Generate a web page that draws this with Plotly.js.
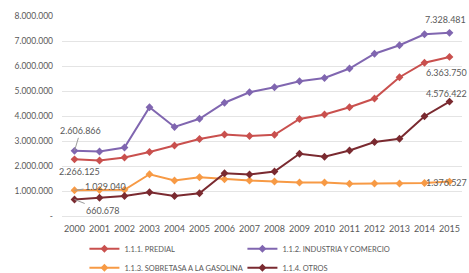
<!DOCTYPE html>
<html>
<head>
<meta charset="utf-8">
<script src="https://cdn.plot.ly/plotly-3.0.1.min.js"></script>
<style>html,body{margin:0;padding:0;background:#fff;}#chart{width:469px;height:273px;}</style>
</head>
<body>
<div id="chart"></div>
<script>
const years = ["2000","2001","2002","2003","2004","2005","2006","2007","2008","2009","2010","2011","2012","2013","2014","2015"];
const predial = [2266125,2220000,2340000,2560000,2820000,3080000,3260000,3200000,3250000,3880000,4060000,4350000,4700000,5550000,6130000,6363750];
const industria = [2606866,2580000,2740000,4350000,3560000,3890000,4530000,4950000,5150000,5390000,5520000,5900000,6490000,6830000,7270000,7328481];
const sobretasa = [1029040,1040000,1050000,1670000,1420000,1550000,1470000,1420000,1380000,1340000,1340000,1290000,1300000,1300000,1320000,1376527];
const otros = [660678,730000,800000,950000,800000,910000,1710000,1660000,1780000,2490000,2370000,2620000,2960000,3090000,3990000,4576422];
const seriesNames = ["1.1.1. PREDIAL","1.1.2. INDUSTRIA Y COMERCIO","1.1.3. SOBRETASA A LA GASOLINA","1.1.4. OTROS"];
const yTickVals = [0,1000000,2000000,3000000,4000000,5000000,6000000,7000000,8000000];
const yTickText = ["-","1.000.000","2.000.000","3.000.000","4.000.000","5.000.000","6.000.000","7.000.000","8.000.000"];

const colors = ["#C9504E","#8066B0","#F79A45","#7A2A30"];
const data = [predial, industria, sobretasa, otros];

function fmt(v){ return String(v).replace(/\B(?=(\d{3})+(?!\d))/g, "."); }

const traces = data.map((d,i)=>({
  x: years, y: d, name: seriesNames[i], type: "scatter", mode: "lines+markers",
  line: {color: colors[i], width: 2},
  marker: {color: colors[i], size: 6, symbol: "diamond"},
  hoverinfo: "skip"
}));

function lf(){ return {family: "Lato, sans-serif", size: 9, color: "#595959"}; }
const last = years.length - 1;
const annotations = [
  {xref: "x", yref: "y", x: 0, y: industria[0], text: fmt(industria[0]), showarrow: true, arrowhead: 0, arrowwidth: 1, arrowcolor: "#9a9a9a", ax: 6, ay: -20, font: lf()},
  {xref: "x", yref: "y", x: 0, y: predial[0], text: fmt(predial[0]), showarrow: false, xshift: 5, yshift: -12, font: lf()},
  {xref: "x", yref: "y", x: 0, y: sobretasa[0], text: fmt(sobretasa[0]), showarrow: true, arrowhead: 0, arrowwidth: 1, arrowcolor: "#9a9a9a", ax: 31, ay: -4, font: lf()},
  {xref: "x", yref: "y", x: 0, y: otros[0], text: fmt(otros[0]), showarrow: true, arrowhead: 0, arrowwidth: 1, arrowcolor: "#9a9a9a", ax: 28, ay: 11, font: lf()},
  {xref: "x", yref: "y", x: last, y: industria[last], text: fmt(industria[last]), showarrow: false, xshift: -4, yshift: 13, font: lf()},
  {xref: "x", yref: "y", x: last, y: predial[last], text: fmt(predial[last]), showarrow: false, xshift: -3, yshift: -16, font: lf()},
  {xref: "x", yref: "y", x: last, y: otros[last], text: fmt(otros[last]), showarrow: false, xshift: -3, yshift: 8, font: lf()},
  {xref: "x", yref: "y", x: last, y: sobretasa[last], text: fmt(sobretasa[last]), showarrow: false, xshift: -3, yshift: -1, font: lf()}
];

const layout = {
  width: 469, height: 273,
  margin: {l: 62, r: 7, t: 16, b: 57},
  paper_bgcolor: "#fff", plot_bgcolor: "#fff",
  font: {family: "Lato, sans-serif", size: 9, color: "#595959"},
  showlegend: true,
  xaxis: {type: "category", range: [-0.5, 15.5], showgrid: false, zeroline: false, showline: false, ticks: "", ticklabelstandoff: 6, tickfont: {size: 9, color: "#595959"}, fixedrange: true},
  yaxis: {range: [0, 8000000], tickvals: yTickVals, ticktext: yTickText, showgrid: true, gridcolor: "#e4e4e4", gridwidth: 1, zeroline: true, zerolinecolor: "#e4e4e4", zerolinewidth: 1, showline: false, ticks: "", ticklabelstandoff: 8, tickfont: {size: 8.5, color: "#595959"}, fixedrange: true},
  legend: {orientation: "h", xref: "container", yref: "container", x: 0.18, y: 0.142, xanchor: "left", yanchor: "top", entrywidth: 113, font: {size: 7.5, color: "#595959"}, tracegroupgap: 0},
  annotations: annotations
};

Plotly.newPlot("chart", traces, layout, {displayModeBar: false, staticPlot: true});
</script>
</body>
</html>
